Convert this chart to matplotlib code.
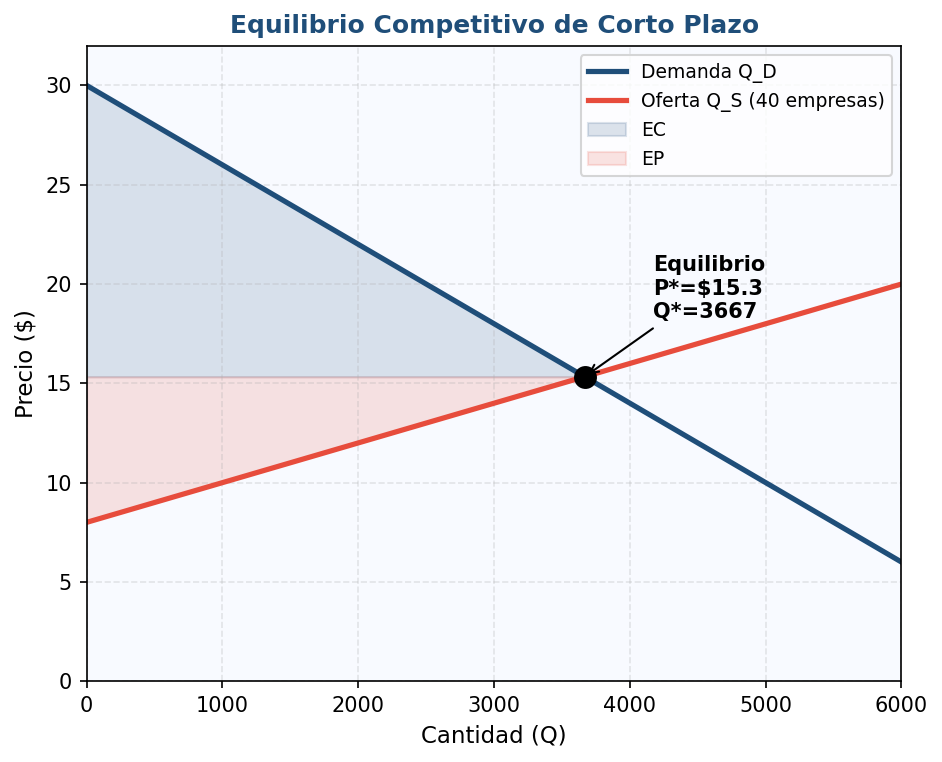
import matplotlib
matplotlib.use("Agg")
import matplotlib.pyplot as plt

# curve endpoints
cantidad = [0, 6000]
demanda = [30, 6]
oferta = [8, 20]

q_star = 3667
p_star = 15.33

fig, ax = plt.subplots(figsize=(6.28, 5.08), dpi=150)
fig.subplots_adjust(left=0.092, right=0.957, top=0.94, bottom=0.106)
ax.set_facecolor("#f8faff")

ax.plot(cantidad, demanda, color="#1f4e79", linewidth=2.5, label="Demanda Q_D")
ax.plot(cantidad, oferta, color="#e74c3c", linewidth=2.5, label="Oferta Q_S (40 empresas)")

ax.fill_between([0, q_star], [demanda[0], p_star], p_star,
                color="#1f4e79", alpha=0.15, label="EC")
ax.fill_between([0, q_star], [oferta[0], p_star], p_star,
                color="#e74c3c", alpha=0.15, label="EP")

ax.plot(q_star, p_star, "o", color="black", markersize=10, zorder=5)
ax.annotate(f"Equilibrio\nP*=${p_star:.1f}\nQ*={q_star}",
            xy=(q_star, p_star), xytext=(4170, 18.3),
            fontsize=10, fontweight="bold",
            arrowprops=dict(arrowstyle="->", color="black", lw=1))

ax.set_xlim(0, 6000)
ax.set_ylim(0, 32)
ax.set_xlabel("Cantidad (Q)", fontsize=11)
ax.set_ylabel("Precio ($)", fontsize=11)
ax.set_title("Equilibrio Competitivo de Corto Plazo", fontsize=12,
             fontweight="bold", color="#1f4e79")
ax.grid(True, linestyle="--", alpha=0.3)
ax.legend(loc="upper right", fontsize=9)

fig.savefig("out.png", dpi=150)
plt.close(fig)
